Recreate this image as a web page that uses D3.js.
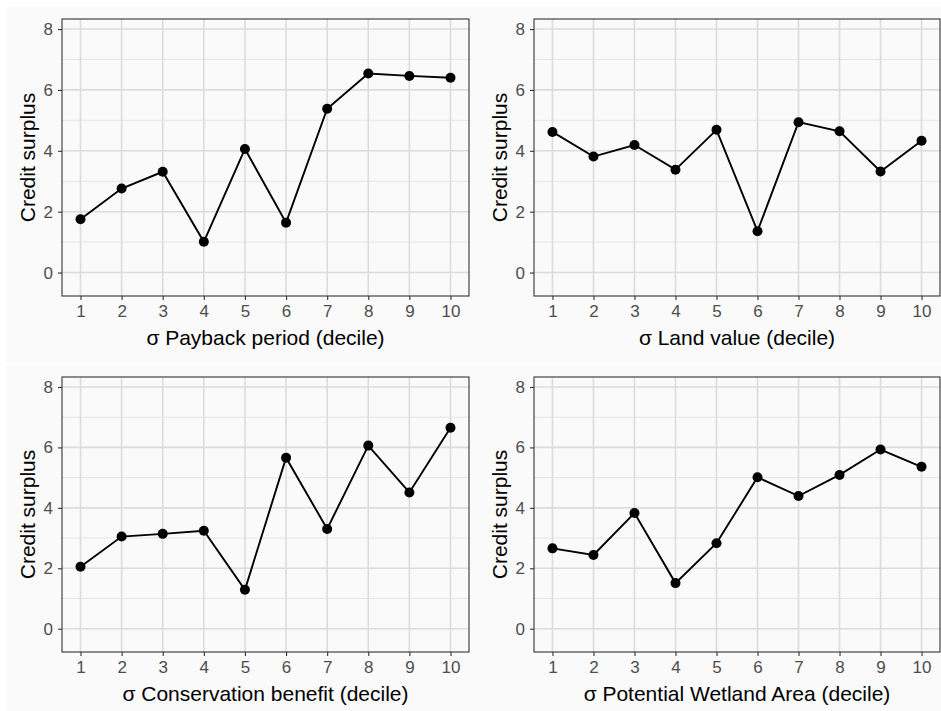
<!DOCTYPE html>
<html>
<head>
<meta charset="utf-8">
<script src="https://cdn.jsdelivr.net/npm/d3@7"></script>
<style>
  body { margin: 0; background: #fff; }
  svg { display: block; font-family: "Liberation Sans", Arial, sans-serif; }
  .tick text { font-size: 17px; fill: #4d4d4d; }
</style>
</head>
<body>
<div class="canvas"></div>
<script>
// data
const deciles = [1, 2, 3, 4, 5, 6, 7, 8, 9, 10]
const paybackPeriod = [1.75, 2.76, 3.31, 1.01, 4.06, 1.64, 5.38, 6.54, 6.46, 6.40]
const landValue = [4.62, 3.81, 4.19, 3.38, 4.69, 1.36, 4.94, 4.64, 3.32, 4.33]
const conservationBenefit = [2.05, 3.05, 3.14, 3.24, 1.29, 5.66, 3.30, 6.06, 4.51, 6.65]
const wetlandArea = [2.66, 2.44, 3.83, 1.51, 2.83, 5.01, 4.39, 5.09, 5.93, 5.36]
const xTitles = ['σ Payback period (decile)', 'σ Land value (decile)', 'σ Conservation benefit (decile)', 'σ Potential Wetland Area (decile)']
const yTicks = [0, 2, 4, 6, 8]
const yMinor = [1, 3, 5, 7]
const yTitle = 'Credit surplus'

const series = [paybackPeriod, landValue, conservationBenefit, wetlandArea]

const width = 941
const height = 711

const svg = d3.select('.canvas').append('svg').attr('width', width).attr('height', height)

// off-white plot backgrounds
svg.append('rect').attr('x', 6).attr('y', 7).attr('width', width - 6).attr('height', 355).attr('fill', '#fafafa')
svg.append('rect').attr('x', 6).attr('y', 365).attr('width', width - 6).attr('height', 346).attr('fill', '#fafafa')

// panel boxes: left, top, right, bottom
const panels = [
  {l: 62, t: 19, r: 469, b: 296},
  {l: 534, t: 19, r: 940, b: 296},
  {l: 62, t: 377, r: 469, b: 652},
  {l: 534, t: 377, r: 940, b: 652}
]

panels.forEach((p, k) => {
  const values = series[k]
  const x = d3.scaleLinear().domain([0.55, 10.45]).range([p.l, p.r])
  const y = d3.scaleLinear().domain([-0.77, 8.33]).range([p.b, p.t])

  const g = svg.append('g')

  g.append('rect').attr('x', p.l).attr('y', p.t).attr('width', p.r - p.l).attr('height', p.b - p.t).attr('fill', '#fafafa')

  // grid
  g.selectAll('.minor').data(yMinor).enter().append('line')
    .attr('x1', p.l).attr('x2', p.r).attr('y1', d => y(d)).attr('y2', d => y(d))
    .attr('stroke', '#e6e6e6').attr('stroke-width', 1)
  g.selectAll('.hmaj').data(yTicks).enter().append('line')
    .attr('x1', p.l).attr('x2', p.r).attr('y1', d => y(d)).attr('y2', d => y(d))
    .attr('stroke', '#dcdcdc').attr('stroke-width', 1.6)
  g.selectAll('.vmaj').data(deciles).enter().append('line')
    .attr('x1', d => x(d)).attr('x2', d => x(d)).attr('y1', p.t).attr('y2', p.b)
    .attr('stroke', '#dcdcdc').attr('stroke-width', 1.6)

  // axes
  const xAxis = d3.axisBottom(x).tickValues(deciles).tickSize(4).tickPadding(5).tickFormat(d3.format('d'))
  const yAxis = d3.axisLeft(y).tickValues(yTicks).tickSize(4).tickPadding(5).tickFormat(d3.format('d'))

  const xg = g.append('g').attr('transform', `translate(0,${p.b})`).call(xAxis)
  const yg = g.append('g').attr('transform', `translate(${p.l},0)`).call(yAxis)
  ;[xg, yg].forEach(a => {
    a.attr('font-size', null).attr('font-family', null)
    a.select('.domain').remove()
    a.selectAll('line').attr('stroke', '#333').attr('stroke-width', 1.1)
  })

  // border
  g.append('rect').attr('x', p.l).attr('y', p.t).attr('width', p.r - p.l).attr('height', p.b - p.t)
    .attr('fill', 'none').attr('stroke', '#333').attr('stroke-width', 1.1)

  // line + points
  const pts = deciles.map((d, i) => ({x: d, v: values[i]}))
  const line = d3.line().x(d => x(d.x)).y(d => y(d.v))
  g.append('path').datum(pts).attr('fill', 'none').attr('stroke', '#000').attr('stroke-width', 1.9).attr('d', line)
  g.selectAll('circle').data(pts).enter().append('circle')
    .attr('cx', d => x(d.x)).attr('cy', d => y(d.v)).attr('r', 5).attr('fill', '#000')

  // titles
  g.append('text').attr('x', (p.l + p.r) / 2).attr('y', p.b + 48.5)
    .attr('text-anchor', 'middle').attr('fill', '#000').style('font-size', '21px').text(xTitles[k])
  g.append('text').attr('transform', `translate(${p.l - 27.5},${(p.t + p.b) / 2}) rotate(-90)`)
    .attr('text-anchor', 'middle').attr('fill', '#000').style('font-size', '21px').text(yTitle)
})
</script>
</body>
</html>
